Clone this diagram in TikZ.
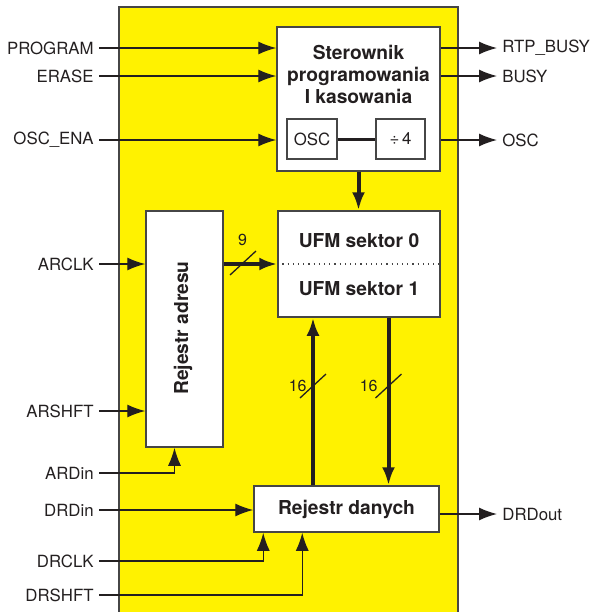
\documentclass[tikz,border=0pt]{standalone}
\usepackage{fontspec}
\setmainfont{TeX Gyre Heros}
\usetikzlibrary{arrows.meta,calc,positioning}
\definecolor{ufmyellow}{RGB}{255,242,0}
\definecolor{ufmgray}{RGB}{70,70,70}
\definecolor{ufmblack}{RGB}{35,31,32}

\begin{document}
\begin{tikzpicture}[x=0.5pt,y=-0.5pt,>={Latex[length=9pt,width=6.5pt]},line join=miter,
  font=\fontsize{8.4}{10}\selectfont,
  blok/.style={draw=ufmgray,line width=0.75pt,fill=white,inner sep=0pt,text=ufmblack},
  sig/.style={->,ufmblack,line width=0.65pt},
  bus/.style={->,ufmblack,line width=2pt},
  we/.style={anchor=east,inner xsep=2.5pt,inner ysep=0pt,text=ufmblack},
  wy/.style={anchor=west,inner xsep=2.5pt,inner ysep=0pt,text=ufmblack},
  tyt/.style={font=\fontsize{9.6}{11}\selectfont\bfseries,text=ufmblack,align=center},
  szer/.style={text=ufmblack,font=\fontsize{8}{10}\selectfont,inner sep=0pt}]
  \useasboundingbox (0,0) rectangle (592,612);
  \draw[fill=ufmyellow,draw=ufmgray,line width=0.75pt] (119,7) rectangle (458,618);
  % bloki
  \node[blok,minimum width=81.5pt,minimum height=72pt] (ster) at (358.5,99) {};
  \node[tyt] (sterT) at (358.5,74) {Sterownik\\programowania\\I kasowania};
  \node[blok,minimum width=25pt,minimum height=20pt] (osc) at (312,139) {OSC};
  \node[blok,minimum width=24.5pt,minimum height=20pt] (div) at (400.5,139) {÷\,4};
  \draw[ufmblack,line width=1.5pt] (osc) -- (div);
  \node[blok,minimum width=81pt,minimum height=53pt] (ufm) at (359,264) {};
  \node[tyt] (ufm0) at (359,241) {UFM sektor 0};
  \node[tyt] (ufm1) at (359,289) {UFM sektor 1};
  \draw[ufmgray,dotted,line width=0.6pt] (ufm.west) -- (ufm.east);
  \node[blok,minimum width=38.5pt,minimum height=118pt] (adr) at (184.5,329) {};
  \node[tyt,rotate=90] (adrT) at (183,328) {Rejestr adresu};
  \node[blok,tyt,minimum width=92.5pt,minimum height=23pt] (dan) at (346.5,509) {Rejestr danych};
  % wejscia
  \node[we] (prog) at (99,48) {PROGRAM};
  \node[we] (erase) at (99,76) {ERASE};
  \node[we] (oscena) at (99,140) {OSC\_ENA};
  \node[we] (arclk) at (99,264) {ARCLK};
  \node[we] (arshft) at (99,411) {ARSHFT};
  \node[we] (ardin) at (99,473) {ARDin};
  \node[we] (drdin) at (99,510) {DRDin};
  \node[we] (drclk) at (99,561) {DRCLK};
  \node[we] (drshft) at (99,595) {DRSHFT};
  \draw[sig] (prog) -- (prog -| ster.west);
  \draw[sig] (erase) -- (erase -| ster.west);
  \draw[sig] (oscena) -- (oscena -| ster.west);
  \draw[sig] (arclk) -- (arclk -| adr.west);
  \draw[sig] (arshft) -- (arshft -| adr.west);
  \draw[sig] (ardin) -| ([xshift=-5pt]adr.south);
  \draw[sig] (drdin) -- (drdin -| dan.west);
  \draw[sig] (drclk) -| ([xshift=5pt]dan.south west);
  \draw[sig] (drshft) -| ([xshift=24.5pt]dan.south west);
  % wyjscia
  \node[wy] (rtpbusy) at (497,48) {RTP\_BUSY};
  \node[wy] (busy) at (497,76) {BUSY};
  \node[wy] (oscout) at (497,140) {OSC};
  \node[wy] (drdout) at (497,514) {DRDout};
  \draw[sig] (rtpbusy -| ster.east) -- (rtpbusy);
  \draw[sig] (busy -| ster.east) -- (busy);
  \draw[sig] (oscout -| ster.east) -- (oscout);
  \draw[sig] (drdout -| dan.east) -- (drdout);
  % magistrale
  \draw[bus] (ster.south) -- (ster.south |- ufm.north);
  \draw[bus] (adr.east |- ufm.west) -- (ufm.west);
  \draw[bus] ([xshift=-16.75pt]dan.north) -- ([xshift=-16.75pt]dan.north |- ufm.south);
  \draw[bus] ([xshift=14.75pt]ufm.south) -- ([xshift=14.75pt]ufm.south |- dan.north);
  \coordinate (s9) at (243,263);
  \coordinate (s16a) at (313,386);
  \coordinate (s16b) at (388.5,386);
  \draw[ufmblack,line width=0.65pt] (s9) ++(-13,12) -- ++(26,-24);
  \draw[ufmblack,line width=0.65pt] (s16a) ++(-13,12) -- ++(26,-24);
  \draw[ufmblack,line width=0.65pt] (s16b) ++(-13,12) -- ++(26,-24);
  \node[szer] (n9) at (242.5,240) {9};
  \node[szer,anchor=east] (n16a) at (307,386) {16};
  \node[szer,anchor=east] (n16b) at (378,386) {16};
\end{tikzpicture}
\end{document}
